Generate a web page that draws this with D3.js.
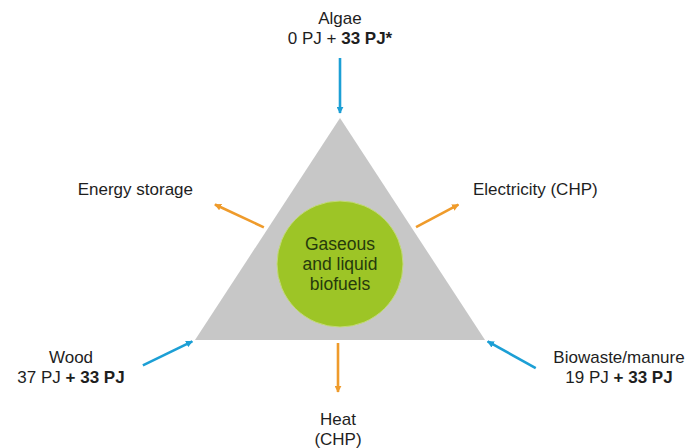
<!DOCTYPE html>
<html lang="en">
<head>
<meta charset="UTF-8">
<title>Biofuels: inputs and uses</title>
<script src="https://d3js.org/d3.v7.min.js"></script>
<style>
  body { margin: 0; background: #fff; }
  svg text { font-family: "Liberation Sans", Arial, sans-serif; fill: #1e1e1e; font-size: 17px; }
</style>
</head>
<body>
<svg id="chart"></svg>
<script>
// feedstocks (in), current potential + extra potential in PJ
const inputNames = ["Algae", "Wood", "Biowaste/manure"];
const currentPJ = [0, 37, 19];
const addedPJ = [33, 33, 33];
const addedNote = ["*", "", ""];
// uses (out)
const outputNames = [["Energy storage"], ["Electricity (CHP)"], ["Heat", "(CHP)"]];
const centerLabel = ["Gaseous", "and liquid", "biofuels"];

const width = 686, height = 448;
const blue = "#1c9fd5", orange = "#ef9b2b";

const svg = d3.select("#chart").attr("width", width).attr("height", height);

// diagram space -> pixels
const x = d3.scaleLinear().domain([-1, 1]).range([195, 485]);
const y = d3.scaleLinear().domain([0, 1]).range([118, 340]);

const verts = [[x(0), y(0)], [x(-1), y(1)], [x(1), y(1)]];

svg.append("path")
  .attr("d", d3.line()(verts) + "Z")
  .attr("fill", "#c7c7c7");

// arrow heads
[["blueHead", blue], ["orangeHead", orange]].forEach(([id, c]) => {
  svg.append("defs").append("marker")
    .attr("id", id)
    .attr("viewBox", "0 0 10 10")
    .attr("refX", 9).attr("refY", 5)
    .attr("markerWidth", 7).attr("markerHeight", 7)
    .attr("markerUnits", "userSpaceOnUse")
    .attr("orient", "auto")
    .append("path").attr("d", "M0,0L10,5L0,10Z").attr("fill", c);
});

const rad = d => d * Math.PI / 180;
const arrowLen = 55;

// incoming arrows: angle of travel, gap before the vertex
const inAngle = [90, -26, -151];
const inGap = [5, 3, 3];
const inArrows = verts.map((v, i) => {
  const a = rad(inAngle[i]);
  const end = [v[0] - Math.cos(a) * inGap[i], v[1] - Math.sin(a) * inGap[i]];
  const start = [end[0] - Math.cos(a) * arrowLen, end[1] - Math.sin(a) * arrowLen];
  return { start, end };
});

svg.selectAll(".in").data(inArrows).join("line")
  .attr("x1", d => d.start[0]).attr("y1", d => d.start[1])
  .attr("x2", d => d.end[0]).attr("y2", d => d.end[1])
  .attr("stroke", blue).attr("stroke-width", 2.6)
  .attr("marker-end", "url(#blueHead)");

// outgoing arrows from edge midpoints
const mids = [
  [(verts[0][0] + verts[1][0]) / 2, (verts[0][1] + verts[1][1]) / 2],
  [(verts[0][0] + verts[2][0]) / 2, (verts[0][1] + verts[2][1]) / 2],
  [(verts[1][0] + verts[2][0]) / 2 - 2, (verts[1][1] + verts[2][1]) / 2]
];
const outAngle = [-155, -28, 90];
const outGap = [4, 4, 3];
const outLen = [54, 48, 49];
const outArrows = mids.map((m, i) => {
  const a = rad(outAngle[i]);
  const start = [m[0] + Math.cos(a) * outGap[i], m[1] + Math.sin(a) * outGap[i]];
  const end = [start[0] + Math.cos(a) * outLen[i], start[1] + Math.sin(a) * outLen[i]];
  return { start, end };
});

svg.selectAll(".out").data(outArrows).join("line")
  .attr("x1", d => d.start[0]).attr("y1", d => d.start[1])
  .attr("x2", d => d.end[0]).attr("y2", d => d.end[1])
  .attr("stroke", orange).attr("stroke-width", 2.6)
  .attr("marker-end", "url(#orangeHead)");

// centre circle
const cx = x(0), cy = 264;
svg.append("circle")
  .attr("cx", cx).attr("cy", cy).attr("r", 63)
  .attr("fill", "#9dc526")
  .attr("stroke", "#c3da78").attr("stroke-width", 1);

svg.append("g").selectAll("text").data(centerLabel).join("text")
  .attr("x", cx)
  .attr("y", (d, i) => cy - 14 + i * 20)
  .attr("text-anchor", "middle")
  .style("fill", "#263a0c")
  .style("font-size", "17.5px")
  .text(d => d);

// input labels (two lines each)
const inLabelPos = [
  { x: x(0), y: 24, anchor: "middle" },
  { x: 71, y: 363, anchor: "middle" },
  { x: 619, y: 363, anchor: "middle" }
];
inputNames.forEach((name, i) => {
  const p = inLabelPos[i];
  const t = svg.append("text").attr("text-anchor", p.anchor);
  t.append("tspan").attr("x", p.x).attr("y", p.y).text(name);
  const l2 = t.append("tspan").attr("x", p.x).attr("y", p.y + 20);
  if (i === 0) {
    l2.append("tspan").text(currentPJ[i] + " PJ + ");
    l2.append("tspan").attr("font-weight", "bold").text(addedPJ[i] + " PJ" + addedNote[i]);
  } else {
    l2.append("tspan").text(currentPJ[i] + " PJ ");
    l2.append("tspan").attr("font-weight", "bold").text("+ " + addedPJ[i] + " PJ" + addedNote[i]);
  }
});

// output labels
const outLabelPos = [
  { x: 193, y: 195, anchor: "end" },
  { x: 473, y: 195, anchor: "start" },
  { x: 338, y: 425, anchor: "middle" }
];
outputNames.forEach((lines, i) => {
  const p = outLabelPos[i];
  svg.append("text").attr("text-anchor", p.anchor)
    .selectAll("tspan").data(lines).join("tspan")
    .attr("x", p.x).attr("y", (d, j) => p.y + j * 20)
    .text(d => d);
});
</script>
</body>
</html>
